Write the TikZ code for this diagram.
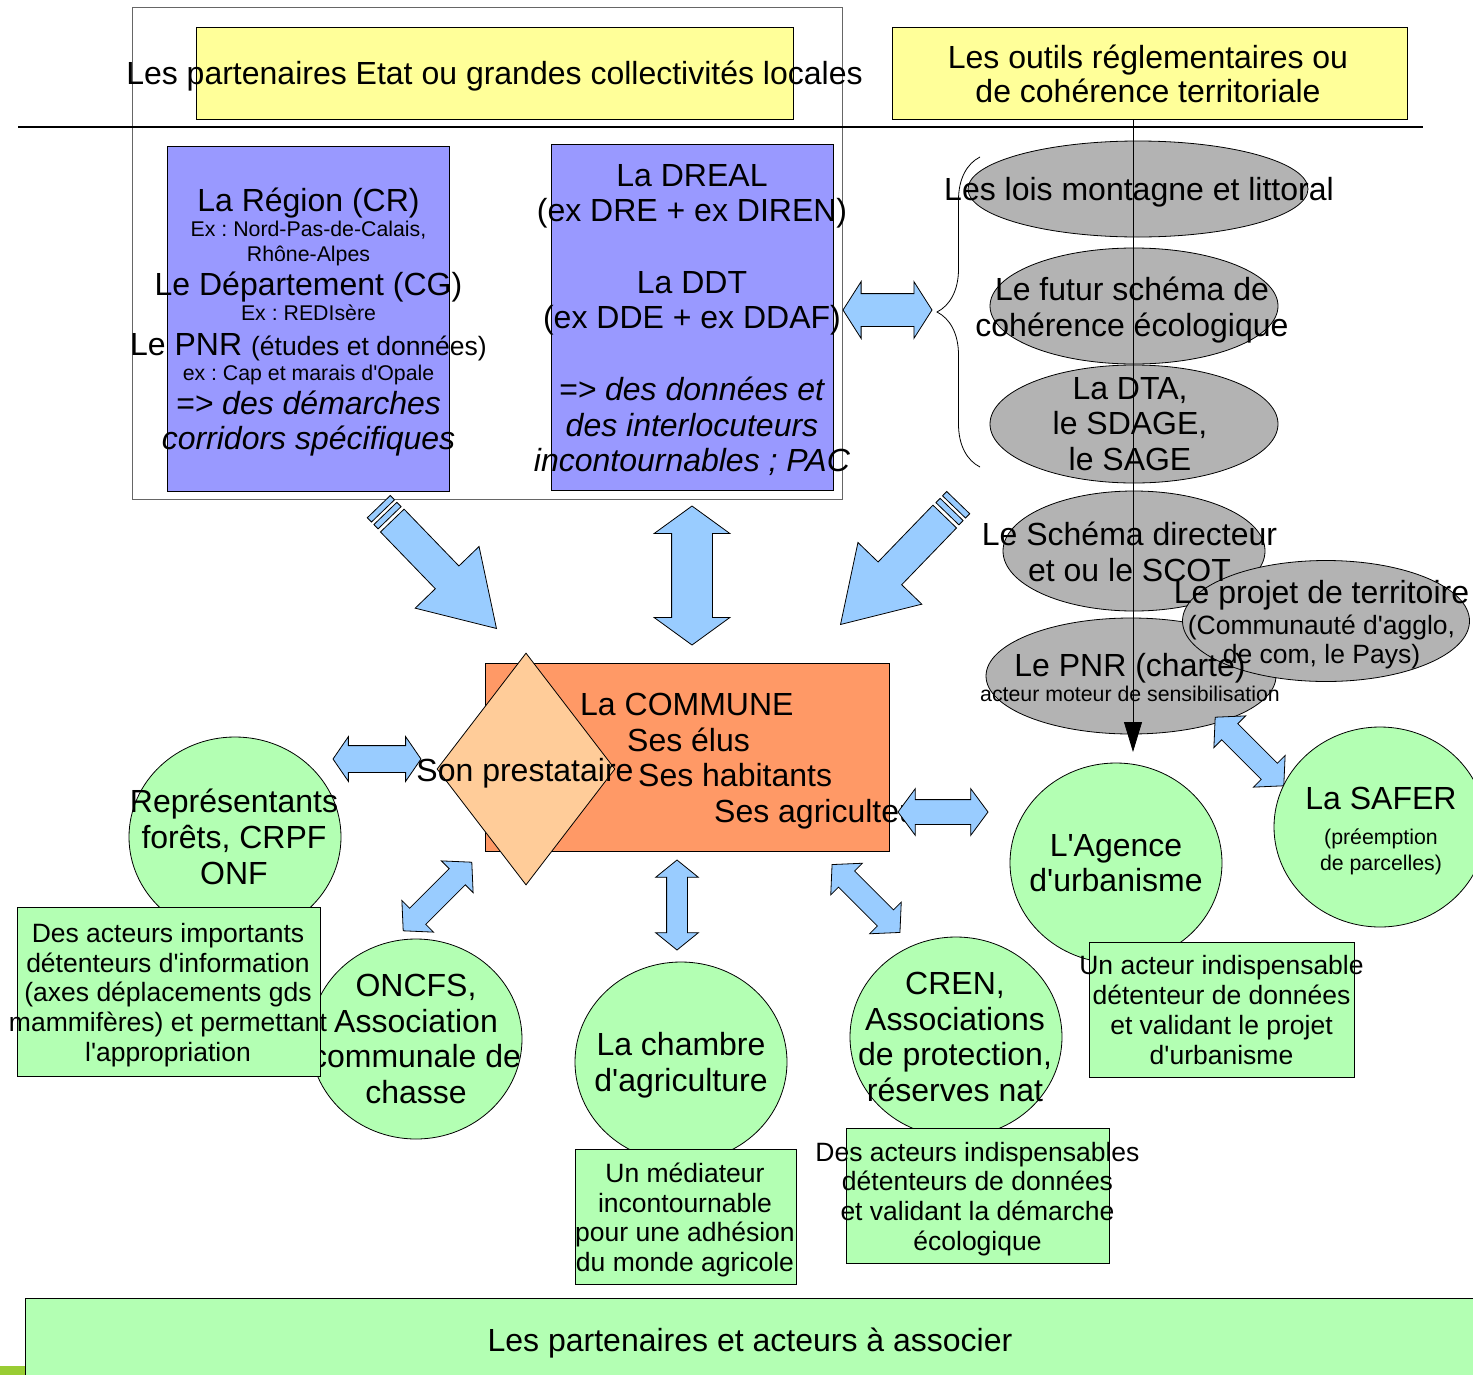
\documentclass[tikz,border=0pt]{standalone}
\usepackage{fontspec}
\newfontfamily\lsans{Liberation Sans}
\usetikzlibrary{arrows.meta,shapes.geometric,shapes.arrows,calc,decorations.pathreplacing}
\frenchspacing

\definecolor{jaune}{HTML}{FFFF99}
\definecolor{mauve}{HTML}{9999FF}
\definecolor{gris}{HTML}{B3B3B3}
\definecolor{bleu}{HTML}{99CCFF}
\definecolor{saumon}{HTML}{FF9966}
\definecolor{peche}{HTML}{FFCC99}
\definecolor{vertc}{HTML}{B3FFB3}
\definecolor{vertolive}{HTML}{99CC33}

\newcommand\grand{\lsans\fontsize{32}{35.7}\selectfont}
\newcommand\moyen{\lsans\fontsize{26.5}{29.8}\selectfont}
\newcommand\petit{\lsans\fontsize{21.3}{25}\selectfont}

\begin{document}
\begin{tikzpicture}[x=1pt, y=-1pt,
    forme/.style={draw, line width=0.8pt, inner sep=0pt},
    jbox/.style={forme, fill=jaune},
    vboite/.style={forme, fill=mauve},
    ell/.style={forme, ellipse, fill=gris},
    rond/.style={forme, ellipse, fill=vertc, minimum width=212pt, minimum height=200pt},
    vrect/.style={forme, fill=vertc},
    txt/.style={inner sep=0pt, align=center, font=\grand},
    txtm/.style={txt, font=\moyen},
    sfl/.style={single arrow, forme, fill=bleu, anchor=tip, minimum height=150pt, text height=32pt, text depth=0pt, single arrow head extend=28pt, minimum width=88pt, single arrow tip angle=64},
    raie/.style={forme, fill=bleu, minimum width=6pt, minimum height=32pt},
    dfl/.style n args={4}{double arrow, forme, fill=bleu, minimum height=#1, text height=#2, text depth=0pt, double arrow head extend=#3, minimum width=#2+2*#3, double arrow tip angle=#4},
    fil/.style={line width=0.8pt, -{Triangle[length=30pt,width=18pt]}}
]
\useasboundingbox (0,0) rectangle (1473,1374);

% partenaires Etat
\node[forme, draw=black!60, minimum width=710pt, minimum height=492pt] (cadre) at (487,253) {};
\node[jbox, minimum width=597pt, minimum height=92pt] (etat) at (494.5,73) {};
\node[txt] (etatt) at (494.5,76) {Les partenaires Etat ou grandes collectivités locales};
\coordinate (sepg) at (18,127);
\coordinate (sepd) at (1423,127);
\draw[line width=2pt] (sepg) -- (sepd);
\node[jbox, minimum width=515pt, minimum height=92pt] (outils) at (1149.5,73) {};
\node[txt, font=\lsans\fontsize{32}{34}\selectfont] (outilst) at (1148,74) {Les outils réglementaires ou\\de cohérence territoriale};

\node[vboite, minimum width=282pt, minimum height=345pt] (region) at (308,318.5) {};
\node[txt] (regiont) at (308.5,322) {La Région (CR)\\[-11.5pt]
  {\petit Ex : Nord-Pas-de-Calais,}\\[-10.7pt]
  {\petit Rhône-Alpes}\\[-1.7pt]
  Le Département (CG)\\[-10.7pt]
  {\petit Ex : REDIsère}\\[-0.7pt]
  Le PNR {\moyen (études et données)}\\[-10.7pt]
  {\petit ex : Cap et marais d'Opale}\\[-1.7pt]
  \textit{=> des démarches}\\[-0.7pt]
  \textit{corridors spécifiques}};
\node[vboite, minimum width=282pt, minimum height=346pt] (dreal) at (692,317) {};
\node[txt] (drealt) at (692,320) {La DREAL\\(ex DRE + ex DIREN)\\[35.7pt]
  La DDT\\(ex DDE + ex DDAF)\\[35.7pt]
  \textit{=> des données et}\\\textit{des interlocuteurs}\\\textit{incontournables ; PAC}};

% outils
\coordinate (acc1) at (980,467);
\coordinate (acc2) at (980,157);
\draw[line width=0.8pt, decorate, decoration={brace, amplitude=43pt}] (acc1) -- (acc2);
\node[ell, minimum width=340pt, minimum height=96pt] (lois) at (1138,189) {};
\node[ell, minimum width=288pt, minimum height=116pt] (srce) at (1134,306) {};
\node[ell, minimum width=288pt, minimum height=118pt] (dta) at (1134,424) {};
\node[ell, minimum width=262pt, minimum height=120pt] (scot) at (1134,551) {};
\node[ell, minimum width=290pt, minimum height=116pt] (pnr) at (1131,676) {};
\node[ell, minimum width=287pt, minimum height=121pt] (projet) at (1326,621) {};
\coordinate (pointe) at (1133,752);
\draw[fil] (outils.south -| pointe) -- (pointe);
\node[txt] (loist) at (1139,192) {Les lois montagne et littoral};
\node[txt] (srcet) at (1132,310) {Le futur schéma de\\cohérence écologique};
\node[txt] (dtat) at (1130,424) {La DTA,\\le SDAGE,\\le SAGE};
\node[txt] (scott) at (1129.5,552) {Le Schéma directeur\\et ou le SCOT};
\node[txt] (pnrt) at (1130,677.5) {Le PNR (charte)\\[-10.7pt]{\petit acteur moteur de sensibilisation}};
\node[txt] (projett) at (1321.5,624.5) {Le projet de territoire\\[-4.7pt]{\moyen (Communauté d'agglo,}\\[-6.7pt]{\moyen de com, le Pays)}};

% fleches vers la commune
\node[sfl, rotate=-46] (fl1) at (497,629) {};
\node[raie, rotate=-46] (fl1a) at ($(fl1.tail)!-6.5pt!(fl1.tip)$) {};
\node[raie, rotate=-46] (fl1b) at ($(fl1.tail)!-16pt!(fl1.tip)$) {};
\node[sfl, rotate=-134] (fl3) at (840,625) {};
\node[raie, rotate=-134] (fl3a) at ($(fl3.tail)!-6.5pt!(fl3.tip)$) {};
\node[raie, rotate=-134] (fl3b) at ($(fl3.tail)!-16pt!(fl3.tip)$) {};
\node[dfl={139pt}{40pt}{17.5pt}{108}, rotate=90] (fl2) at (692,575.5) {};
\node[dfl={89pt}{32pt}{12pt}{115}] (fl4) at (887.5,310) {};
\node[dfl={88pt}{26pt}{9pt}{111}] (fl5) at (377,759) {};
\node[dfl={97pt}{22pt}{11pt}{95}, rotate=45] (fl7) at (437.5,896.5) {};
\node[dfl={90pt}{20pt}{11pt}{102}, rotate=90] (fl8) at (677,905) {};
\node[dfl={96pt}{22pt}{11pt}{95}, rotate=-45] (fl9) at (866,898.5) {};
\node[dfl={97pt}{22pt}{11pt}{95}, rotate=-45] (fl10) at (1249.5,751.5) {};

% la commune
\node[forme, fill=saumon, minimum width=404pt, minimum height=188pt] (commune) at (687,757) {};
\node[forme, diamond, fill=peche, minimum width=178pt, minimum height=232pt] (presta) at (526,769) {};
\node[txt] (prestat) at (525,773) {Son prestataire};
\node[txt, align=left, anchor=west] (communet) at (580,761) {La COMMUNE\\
  \hspace*{47pt}Ses élus\\
  \hspace*{58pt}Ses habitants\\
  \hspace*{134pt}Ses agriculteurs};
\node[dfl={90pt}{24pt}{11pt}{107}] (fl6) at (943,812) {};

% partenaires et acteurs
\node[rond] (forets) at (235,837) {};
\node[txt] (foretst) at (234,837) {Représentants\\forêts, CRPF\\ONF};
\node[rond] (oncfs) at (416,1039) {};
\node[txt] (oncfst) at (416,1039) {ONCFS,\\Association\\communale de\\chasse};
\node[vrect, minimum width=303pt, minimum height=169pt] (foretsr) at (168.5,991.5) {};
\node[txtm] (foretsrt) at (168,995) {Des acteurs importants\\détenteurs d'information\\(axes déplacements gds\\mammifères) et permettant\\l'appropriation};
\node[rond] (chambre) at (681,1062) {};
\node[txt] (chambret) at (681,1065.5) {La chambre\\d'agriculture};
\node[vrect, minimum width=221pt, minimum height=135pt] (chambrer) at (685.5,1216.5) {};
\node[txtm] (chambrert) at (685,1220) {Un médiateur\\incontournable\\pour une adhésion\\du monde agricole};
\node[rond] (cren) at (956,1037) {};
\node[txt] (crent) at (955,1037) {CREN,\\Associations\\de protection,\\réserves nat};
\node[vrect, minimum width=263pt, minimum height=135pt] (crenr) at (977.5,1195.5) {};
\node[txtm] (crenrt) at (977.5,1199) {Des acteurs indispensables\\détenteurs de données\\et validant la démarche\\écologique};
\node[rond] (agence) at (1116,863) {};
\node[txt] (agencet) at (1116,863) {L'Agence\\d'urbanisme};
\node[vrect, minimum width=265pt, minimum height=135pt] (agencer) at (1221.5,1009.5) {};
\node[txtm] (agencert) at (1221.5,1010) {Un acteur indispensable\\détenteur de données\\et validant le projet\\d'urbanisme};
\node[rond] (safer) at (1380,827) {};
\node[txt] (safert) at (1381,831) {La SAFER\\[0pt]{\petit (préemption}\\[-9.7pt]{\petit de parcelles)}};

\node[vrect, minimum width=1475pt, minimum height=102pt] (bas) at (762.5,1349) {};
\node[txt] (bast) at (750,1343) {Les partenaires et acteurs à associer};
\node[forme, draw=none, fill=vertolive, minimum width=25pt, minimum height=10pt] (coin) at (12.5,1371) {};
\end{tikzpicture}
\end{document}
